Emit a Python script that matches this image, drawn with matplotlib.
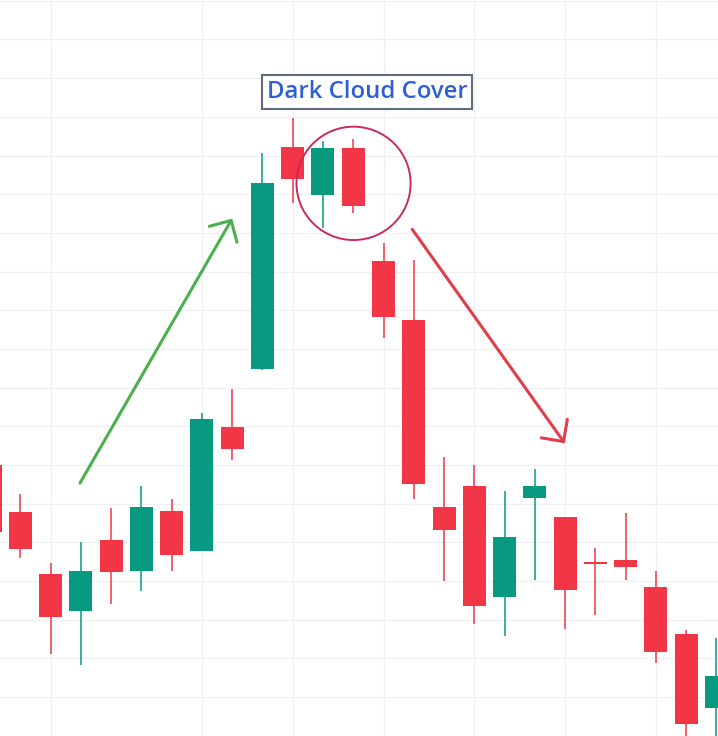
import numpy as np
import matplotlib.pyplot as plt
from matplotlib.patches import Ellipse, FancyArrowPatch

# candle data (arbitrary price units, one grid step = 1)
opens  = [7.06, 5.85, 4.24, 3.29, 5.12, 4.33, 5.87, 4.84, 8.04, 9.55, 15.28, 14.05, 15.26,
          12.33, 10.81, 5.97, 6.52, 3.66, 6.21, 5.72, 4.55, 4.60, 3.91, 2.69, 0.79]
highs  = [7.06, 6.31, 4.53, 5.07, 5.95, 6.52, 6.18, 8.40, 9.02, 15.12, 16.03, 15.44, 15.49,
          12.79, 12.36, 7.27, 7.06, 6.39, 6.96, 5.72, 4.91, 5.82, 4.32, 2.79, 2.60]
lows   = [5.33, 4.66, 2.18, 1.90, 3.47, 3.81, 4.33, 4.84, 7.19, 9.52, 13.82, 13.19, 13.58,
          10.33, 6.19, 4.07, 2.96, 2.65, 4.09, 2.83, 3.19, 4.09, 1.95, -0.5, -0.5]
closes = [5.33, 4.90, 3.14, 4.32, 4.30, 5.97, 4.74, 8.25, 7.47, 14.35, 14.46, 15.26, 13.76,
          10.89, 6.56, 5.39, 3.42, 5.20, 6.52, 3.84, 4.51, 4.43, 2.23, 0.37, 1.60]
idx = np.arange(-1, len(opens) - 1)

vgrid = [1, 6, 9, 12, 15, 18, 21]
hgrid = np.arange(19) + 1.06

label = "Dark Cloud Cover"

up_col = "#089981"
down_col = "#f23645"

fig = plt.figure(figsize=(7.18, 7.36), dpi=100)
ax = fig.add_axes([0, 0, 1, 1])
ax.set_xlim(-0.671, 23.05)
ax.set_ylim(0.054, 19.08)
ax.axis("off")

for g in vgrid:
    ax.axvline(g, color="#eef0f3", lw=0.9, zorder=0)
for g in hgrid:
    ax.axhline(g, color="#eef0f3", lw=0.9, zorder=0)

o = np.array(opens)
c = np.array(closes)
cols = [up_col if cc >= oo else down_col for oo, cc in zip(o, c)]
body_h = np.maximum(np.abs(c - o), 0.04)
ax.vlines(idx, lows, highs, colors=cols, lw=1.1, zorder=2)
ax.bar(idx, body_h, bottom=np.minimum(o, c), width=0.76, color=cols, zorder=3)

# trend arrows
ax.add_patch(FancyArrowPatch((1.97, 6.59), (7.0, 13.43),
                             arrowstyle="->,head_length=11.5,head_width=11.5",
                             color="#4caf50", lw=2.2, shrinkA=0, shrinkB=0,
                             capstyle="round", joinstyle="round", zorder=4))
ax.add_patch(FancyArrowPatch((12.95, 13.15), (17.99, 7.62),
                             arrowstyle="->,head_length=11.5,head_width=11.5",
                             color="#e23d4b", lw=2.2, shrinkA=0, shrinkB=0,
                             capstyle="round", joinstyle="round", zorder=4))

# circle around the pattern
ax.add_patch(Ellipse((11.01, 14.34), 3.77, 2.93, fill=False,
                     edgecolor="#cc2a5c", lw=1.4, zorder=4))

ax.text(11.45, 16.70, label, ha="center", va="center", fontsize=17.2,
        family=["Open Sans", "DejaVu Sans"], weight="semibold", color="#2f5fd6",
        bbox=dict(boxstyle="square,pad=0.2", facecolor="white",
                  edgecolor="#5f6b78", lw=1.5), zorder=5)

fig.savefig("out.png", dpi=100)
